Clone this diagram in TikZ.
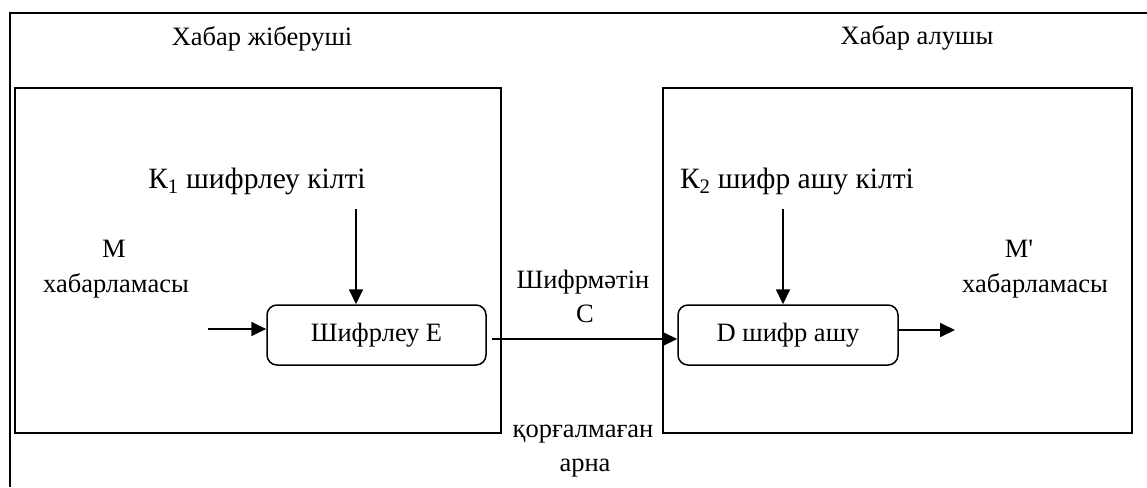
\documentclass[tikz,border=0pt]{standalone}
\usepackage{fontspec}
\newfontfamily\serif{Liberation Serif}
\usetikzlibrary{arrows.meta}

\tikzset{
  txt/.style={font=\serif\fontsize{26.5}{30}\selectfont, inner sep=0pt, anchor=center},
  keytxt/.style={font=\serif\fontsize{29.5}{33}\selectfont, inner sep=0pt, anchor=center},
  panel/.style={draw, line width=1.7pt, inner sep=0pt},
  procbox/.style={draw, line width=1.5pt, rounded corners=10pt, inner sep=0pt,
    minimum height=60pt, font=\serif\fontsize{26.5}{30}\selectfont},
  arr/.style={line width=1.8pt, -{Triangle[length=15pt,width=14pt]}},
  frameline/.style={line width=1.4pt}
}

\begin{document}
\begin{tikzpicture}[x=1pt, y=-1pt]
  \useasboundingbox (0,0) rectangle (1147,487);

  % outer frame (top and left edges)
  \coordinate (fTL) at (10,13);
  \coordinate (fTR) at (1147,13);
  \coordinate (fBL) at (10,487);
  \draw[frameline] (fTR) -- (fTL) -- (fBL);

  % sender and receiver panels
  \node[panel, minimum width=486pt, minimum height=345pt] (sendbox) at (258,260.5) {};
  \node[panel, minimum width=469pt, minimum height=345pt] (recvbox) at (897.5,260.5) {};

  % titles
  \node[txt] (sender) at (262,39) {Хабар жіберуші};
  \node[txt] (receiver) at (917,38) {Хабар алушы};

  % keys
  \node[keytxt] (k1) at (257,181) {К\textsubscript{1} шифрлеу кілті};
  \node[keytxt] (k2) at (797,181) {К\textsubscript{2} шифр ашу кілті};

  % processing blocks
  \node[procbox, minimum width=219pt] (enc) at (376.5,335) {Шифрлеу E};
  \node[procbox, minimum width=220pt] (dec) at (788,335) {D шифр ашу};

  % message labels
  \node[txt] (m) at (114,249) {M};
  \node[txt] (mtext) at (116,286) {хабарламасы};
  \node[txt] (mp) at (1019,249) {M'};
  \node[txt] (mptext) at (1035,286) {хабарламасы};

  % channel labels
  \node[txt] (ctext) at (583,282) {Шифрмәтін};
  \node[txt] (c) at (585,314) {C};
  \node[txt] (chan) at (583,434) {қорғалмаған};
  \node[txt] (chan2) at (585,468) {арна};

  % connectors
  \coordinate (k1s) at (356,209);
  \coordinate (k2s) at (783,209);
  \coordinate (ms) at (208,329);
  \coordinate (cs) at (492,339);
  \coordinate (mo) at (955,330);

  \draw[arr] (k1s) -- (k1s |- enc.north);
  \draw[arr] (k2s) -- (k2s |- dec.north);
  \draw[arr] (ms) -- (ms -| enc.west);
  \draw[arr] (cs) -- (cs -| dec.west);
  \draw[arr] (mo -| dec.east) -- (mo);
\end{tikzpicture}
\end{document}
